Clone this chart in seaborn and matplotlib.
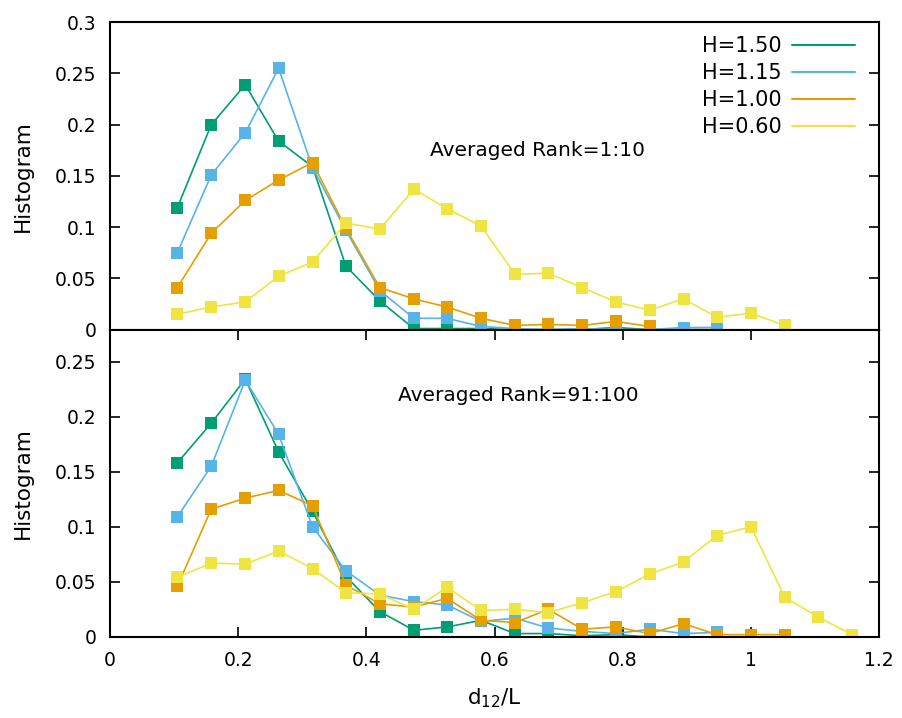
import matplotlib
matplotlib.use("Agg")
import matplotlib.pyplot as plt
from matplotlib.lines import Line2D
import seaborn as sns
import pandas as pd

# bin centres of d12/L
d12 = [0.105, 0.158, 0.211, 0.263, 0.316, 0.368, 0.421, 0.474, 0.526, 0.579,
       0.632, 0.684, 0.737, 0.789, 0.842, 0.895, 0.947, 1.0, 1.053, 1.105, 1.158]

labels = ["H=1.50", "H=1.15", "H=1.00", "H=0.60"]
colors = ["#009e73", "#56b4e9", "#e69f00", "#f0e442"]

# Averaged Rank=1:10
top_h150 = [0.119, 0.200, 0.239, 0.184, 0.159, 0.062, 0.028, 0.001, 0.001, 0.001,
            0.0, 0.0, 0.0, 0.002, 0.0, 0.0, 0.0]
top_h115 = [0.075, 0.151, 0.192, 0.255, 0.158, 0.097, 0.038, 0.011, 0.011, 0.003,
            0.001, 0.0, 0.001, 0.0, 0.0, 0.002, 0.002]
top_h100 = [0.041, 0.094, 0.126, 0.146, 0.163, 0.099, 0.041, 0.030, 0.022, 0.011,
            0.004, 0.005, 0.004, 0.008, 0.003]
top_h060 = [0.015, 0.022, 0.027, 0.052, 0.066, 0.104, 0.098, 0.137, 0.118, 0.101,
            0.054, 0.055, 0.041, 0.027, 0.019, 0.030, 0.012, 0.016, 0.004]

# Averaged Rank=91:100
bot_h150 = [0.158, 0.194, 0.234, 0.168, 0.114, 0.055, 0.023, 0.006, 0.009, 0.015,
            0.003, 0.003, 0.001, 0.002, 0.0]
bot_h115 = [0.109, 0.155, 0.233, 0.184, 0.100, 0.060, 0.038, 0.032, 0.029, 0.014,
            0.017, 0.008, 0.005, 0.003, 0.007, 0.003, 0.004]
bot_h100 = [0.046, 0.116, 0.126, 0.133, 0.119, 0.047, 0.030, 0.027, 0.035, 0.015,
            0.013, 0.025, 0.007, 0.009, 0.003, 0.012, 0.002, 0.002, 0.002]
bot_h060 = [0.054, 0.067, 0.066, 0.078, 0.062, 0.040, 0.039, 0.025, 0.045, 0.024,
            0.025, 0.022, 0.031, 0.041, 0.057, 0.068, 0.092, 0.100, 0.036, 0.018, 0.002]


def to_frame(series):
    rows = []
    for lab, vals in zip(labels, series):
        for x, y in zip(d12, vals):
            rows.append({"d": x, "hist": y, "H": lab})
    return pd.DataFrame(rows)


sns.set_style("ticks")
plt.rcParams.update({
    "font.family": ["DejaVu Sans"],
    "text.color": "black",
    "axes.labelcolor": "black",
    "xtick.color": "black",
    "ytick.color": "black",
    "xtick.direction": "in",
    "ytick.direction": "in",
    "xtick.major.size": 7,
    "ytick.major.size": 7,
    "xtick.major.width": 1.2,
    "ytick.major.width": 1.2,
    "xtick.major.pad": 10,
    "ytick.major.pad": 10,
    "axes.linewidth": 1.5,
    "axes.edgecolor": "black",
    "xtick.labelsize": 13.5,
    "ytick.labelsize": 13.5,
})

fig, (ax1, ax2) = plt.subplots(2, 1, figsize=(9.02, 7.18), dpi=100, sharex=True)
fig.subplots_adjust(left=0.122, right=0.9745, top=0.969, bottom=0.113, hspace=0)

panels = [
    (ax1, [top_h150, top_h115, top_h100, top_h060], 0.3, "Averaged Rank=1:10", 0.5, 0.175),
    (ax2, [bot_h150, bot_h115, bot_h100, bot_h060], 0.279, "Averaged Rank=91:100", 0.449, 0.219),
]

for ax, series, ytop, note, nx, ny in panels:
    df = to_frame(series)
    sns.lineplot(data=df, x="d", y="hist", hue="H", hue_order=labels,
                 palette=colors, marker="s", markersize=8, markeredgewidth=0,
                 linewidth=1.2, sort=False, legend=False, ax=ax)
    ax.set_xlim(0, 1.2)
    ax.set_ylim(0, ytop)
    ax.set_yticks([0, 0.05, 0.1, 0.15, 0.2, 0.25] + ([0.3] if ytop >= 0.3 else []))
    ax.set_yticklabels(["0", "0.05", "0.1", "0.15", "0.2", "0.25"] + (["0.3"] if ytop >= 0.3 else []))
    ax.set_ylabel("Histogram", fontsize=15.5, labelpad=16)
    ax.set_xlabel("")
    ax.tick_params(axis="y", left=True, right=True)
    ax.text(nx, ny, note, fontsize=14.5, va="center", ha="left")

ax1.tick_params(axis="x", bottom=False, top=False, labelbottom=False)
ax2.tick_params(axis="x", bottom=True, top=True)
ax2.set_xticks([0, 0.2, 0.4, 0.6, 0.8, 1.0, 1.2])
ax2.set_xticklabels(["0", "0.2", "0.4", "0.6", "0.8", "1", "1.2"])
ax2.set_xlabel("d$_{12}$/L", fontsize=15.5, labelpad=12)

handles = [Line2D([0], [0], color=c, lw=1.5) for c in colors]
ax1.legend(handles, labels, loc="upper right", bbox_to_anchor=(0.985, 0.995),
           frameon=False, markerfirst=False, fontsize=15, handlelength=3.0,
           handletextpad=0.5, labelspacing=0.33, borderaxespad=0.2)

plt.savefig("out.png", dpi=100)
